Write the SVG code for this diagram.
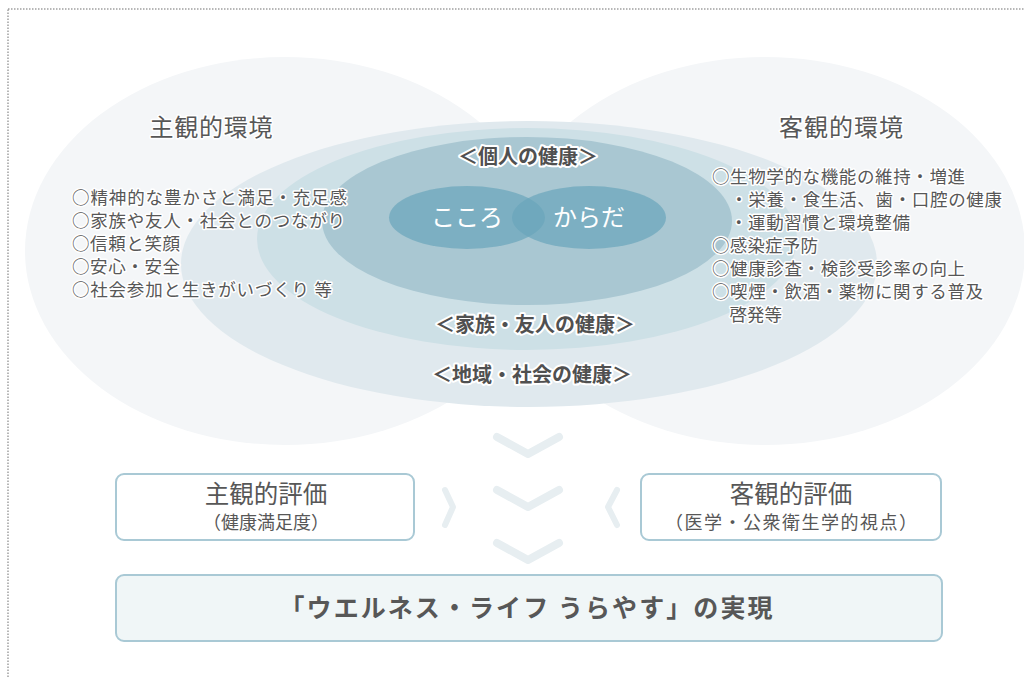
<svg xmlns="http://www.w3.org/2000/svg" width="1024" height="678" viewBox="0 0 1024 678">
<style>
text{font-family:"Noto Sans CJK JP","Noto Sans",sans-serif;fill:#575757;}
.halo{stroke:#fff;stroke-width:3;stroke-linejoin:round;paint-order:stroke;}
.title{font-size:24px;}
.item{font-size:17.5px;}
.lab{font-size:20px;font-weight:bold;fill:#505050;stroke:#fff;stroke-width:4;stroke-linejoin:round;paint-order:stroke;}
.inner{font-size:24px;fill:#fff;}
.box{fill:#fff;stroke:#a9c9d5;stroke-width:2;}
.chev{fill:none;stroke:#e7eef1;stroke-width:8;stroke-linecap:round;stroke-linejoin:round;}
.chevs{fill:none;stroke:#e7eef1;stroke-width:6;stroke-linecap:round;stroke-linejoin:round;}
</style>
<rect x="8" y="9" width="1030" height="690" fill="none" stroke="#a0a0a0" stroke-width="1.5" stroke-dasharray="1.5 1.5"/>
<g id="env-bg">
<ellipse cx="285" cy="251" rx="260" ry="194" fill="#f4f6f8"/>
<ellipse cx="765" cy="251" rx="260" ry="194" fill="#f4f6f8"/>
</g>
<g id="community">
<ellipse cx="529" cy="264" rx="348" ry="143" fill="#e0e9ee"/>
<text class="lab" x="532" y="382" text-anchor="middle">＜地域・社会の健康＞</text>
</g>
<g id="family">
<ellipse cx="527" cy="239" rx="270" ry="111" fill="#cde0e6"/>
<text class="lab" x="535" y="332" text-anchor="middle">＜家族・友人の健康＞</text>
</g>
<g id="individual">
<ellipse cx="527" cy="221" rx="205" ry="84" fill="#a9c7d2"/>
<text class="lab" x="528" y="164" text-anchor="middle">＜個人の健康＞</text>
</g>
<g id="kokoro">
<ellipse cx="467" cy="217.5" rx="78" ry="31.5" fill="#6aa5bb" fill-opacity="0.7"/>
<text class="inner" x="467" y="226" text-anchor="middle">こころ</text>
</g>
<g id="karada">
<ellipse cx="589" cy="217.5" rx="77" ry="31.5" fill="#6aa5bb" fill-opacity="0.7"/>
<text class="inner" x="589" y="226" text-anchor="middle">からだ</text>
</g>
<g id="subjective-env">
<text class="title halo" x="211" y="136" text-anchor="middle" textLength="123">主観的環境</text>
<text class="item halo" x="72" y="204" textLength="275">○精神的な豊かさと満足・充足感</text>
<text class="item halo" x="72" y="227" textLength="273">○家族や友人・社会とのつながり</text>
<text class="item halo" x="72" y="250" textLength="108">○信頼と笑顔</text>
<text class="item halo" x="72" y="273" textLength="108">○安心・安全</text>
<text class="item halo" x="72" y="296" textLength="260">○社会参加と生きがいづくり 等</text>
</g>
<g id="objective-env">
<text class="title halo" x="841" y="136" text-anchor="middle" textLength="124">客観的環境</text>
<text class="item halo" x="712" y="183" textLength="253">○生物学的な機能の維持・増進</text>
<text class="item halo" x="712" y="206" textLength="290">　・栄養・食生活、歯・口腔の健康</text>
<text class="item halo" x="712" y="229" textLength="198">　・運動習慣と環境整備</text>
<text class="item halo" x="712" y="252" textLength="106">○感染症予防</text>
<text class="item halo" x="712" y="275" textLength="253">○健康診査・検診受診率の向上</text>
<text class="item halo" x="712" y="298" textLength="271">○喫煙・飲酒・薬物に関する普及</text>
<text class="item halo" x="712" y="321" textLength="70">　啓発等</text>
</g>
<g id="connectors">
<polyline class="chev" points="497,437 528,454 559,437"/>
<polyline class="chev" points="497,490 528,507 559,490"/>
<polyline class="chev" points="497,543 528,560 559,543"/>
<polyline class="chevs" points="445,490 453,507 445,525"/>
<polyline class="chevs" points="617,490 608,507 617,525"/>
</g>
<g id="subjective-eval">
<rect class="box" x="116" y="474" width="298" height="66" rx="8"/>
<text x="266" y="503" font-size="24.5" text-anchor="middle">主観的評価</text>
<text x="266" y="529" font-size="18" text-anchor="middle">（健康満足度）</text>
</g>
<g id="objective-eval">
<rect class="box" x="641" y="474" width="300" height="66" rx="8"/>
<text x="791" y="503" font-size="24.5" text-anchor="middle">客観的評価</text>
<text x="791" y="529" font-size="18" text-anchor="middle" textLength="252">（医学・公衆衛生学的視点）</text>
</g>
<g id="goal">
<rect x="116" y="575" width="826" height="66" rx="8" fill="#f0f6f7" stroke="#a9c9d5" stroke-width="2"/>
<text x="526" y="617" font-size="25" font-weight="bold" text-anchor="middle" textLength="493">「ウエルネス・ライフ うらやす」の実現</text>
</g>
</svg>
